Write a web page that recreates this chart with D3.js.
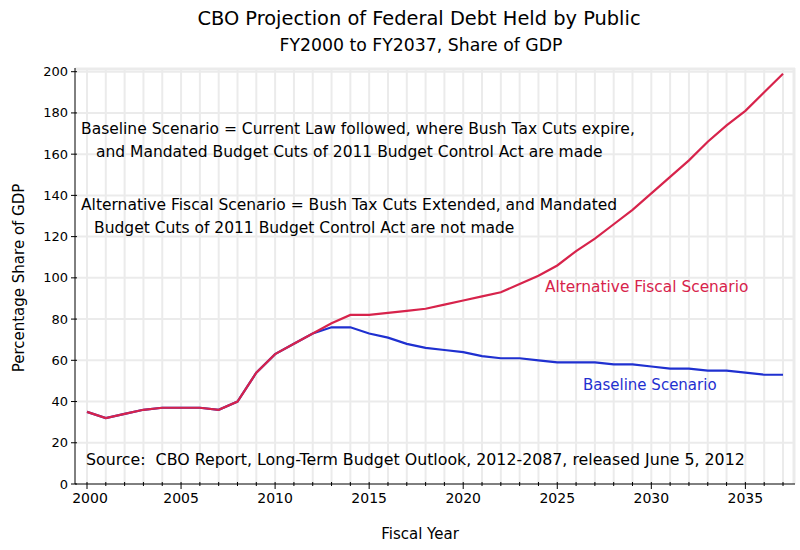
<!DOCTYPE html>
<html>
<head>
<meta charset="utf-8">
<script src="https://cdn.jsdelivr.net/npm/d3@7"></script>
<style>
  body { margin: 0; background: #fff; }
  text { font-family: "DejaVu Sans", sans-serif; }
</style>
</head>
<body>
<div id="chart"></div>
<script>
// data (share of GDP, %)
years = d3.range(2000, 2038);
baseline = [35, 32, 34, 36, 37, 37, 37, 36, 40, 54, 63, 68, 73, 76, 76, 73, 71, 68, 66, 65,
            64, 62, 61, 61, 60, 59, 59, 59, 58, 58, 57, 56, 56, 55, 55, 54, 53, 53];
alternative = [35, 32, 34, 36, 37, 37, 37, 36, 40, 54, 63, 68, 73, 78, 82, 82, 83, 84, 85, 87,
               89, 91, 93, 97, 101, 106, 113, 119, 126, 133, 141, 149, 157, 166, 174, 181, 190, 199];
yTicks = [0, 20, 40, 60, 80, 100, 120, 140, 160, 180, 200];
xTicks = [2000, 2005, 2010, 2015, 2020, 2025, 2030, 2035];

width = 800;
height = 550;

const redColor = "#d7234b";
const blueColor = "#1f30d0";

const svg = d3.select("#chart").append("svg")
    .attr("width", width)
    .attr("height", height);

const plotLeft = 75, plotRight = 795, plotTop = 68, plotBottom = 484;

const x = d3.scaleLinear().domain([2000, 2037]).range([87, 783]);
const y = d3.scaleLinear().domain([0, 200]).range([plotBottom, 71.7]);

// grid
const grid = svg.append("g").attr("stroke", "#ebebeb").attr("stroke-width", 2);
grid.selectAll(".vx").data(years).join("line")
    .attr("x1", d => x(d)).attr("x2", d => x(d))
    .attr("y1", plotTop).attr("y2", plotBottom);
grid.selectAll(".hy").data(yTicks.slice(1)).join("line")
    .attr("x1", plotLeft).attr("x2", plotRight)
    .attr("y1", d => y(d)).attr("y2", d => y(d));
// light frame on top and right
grid.append("line").attr("x1", plotLeft).attr("x2", plotRight).attr("y1", plotTop + 1).attr("y2", plotTop + 1)
    .attr("stroke-width", 3);
grid.append("line").attr("x1", plotRight - 1).attr("x2", plotRight - 1).attr("y1", plotTop).attr("y2", plotBottom)
    .attr("stroke-width", 3);

// annotations
const notes = [
  {t: "Baseline Scenario = Current Law followed, where Bush Tax Cuts expire,", x: 81, y: 134, s: 15.5},
  {t: "and Mandated Budget Cuts of 2011 Budget Control Act are made", x: 96, y: 157, s: 15.5},
  {t: "Alternative Fiscal Scenario = Bush Tax Cuts Extended, and Mandated", x: 81, y: 210, s: 15.5},
  {t: "Budget Cuts of 2011 Budget Control Act are not made", x: 94, y: 233, s: 15.5},
  {t: "Source:  CBO Report, Long-Term Budget Outlook, 2012-2087, released June 5, 2012", x: 86, y: 465, s: 15.8}
];
svg.append("g").selectAll("text").data(notes).join("text")
    .attr("x", d => d.x).attr("y", d => d.y)
    .attr("font-size", d => d.s)
    .attr("fill", "#000")
    .attr("xml:space", "preserve")
    .style("white-space", "pre")
    .text(d => d.t);

// lines
const line = arr => d3.line()
    .x((d, i) => x(years[i]))
    .y(d => y(d))(arr);

svg.append("path").attr("d", line(baseline))
    .attr("fill", "none").attr("stroke", blueColor).attr("stroke-width", 2.2);
svg.append("path").attr("d", line(alternative))
    .attr("fill", "none").attr("stroke", redColor).attr("stroke-width", 2.2);

svg.append("text").attr("x", 545).attr("y", 292)
    .attr("font-size", 15.4).attr("fill", redColor)
    .text("Alternative Fiscal Scenario");
svg.append("text").attr("x", 583).attr("y", 390)
    .attr("font-size", 15).attr("fill", blueColor)
    .text("Baseline Scenario");

// axes
const yAxis = svg.append("g").attr("transform", `translate(${plotLeft},0)`);
yAxis.append("line").attr("y1", plotTop).attr("y2", plotBottom).attr("stroke", "#000");
yAxis.selectAll(".t").data(yTicks).join("line")
    .attr("x1", -4).attr("x2", 2)
    .attr("y1", d => y(d)).attr("y2", d => y(d))
    .attr("stroke", "#000");
yAxis.selectAll("text").data(yTicks).join("text")
    .attr("x", -7).attr("y", d => y(d)).attr("dy", "0.35em")
    .attr("text-anchor", "end").attr("font-size", 13)
    .text(d => d);

const xAxis = svg.append("g").attr("transform", `translate(0,${plotBottom})`);
xAxis.append("line").attr("x1", plotLeft).attr("x2", plotRight).attr("stroke", "#000");
xAxis.selectAll(".m").data(years).join("line")
    .attr("x1", d => x(d)).attr("x2", d => x(d))
    .attr("y1", -2).attr("y2", d => xTicks.includes(d) ? 5 : 2)
    .attr("stroke", "#000");
xAxis.selectAll("text").data(xTicks).join("text")
    .attr("x", d => x(d) + (d === 2000 ? 3 : 0)).attr("y", 19)
    .attr("text-anchor", "middle").attr("font-size", 14)
    .text(d => d);

// titles
svg.append("text").attr("x", 419).attr("y", 25)
    .attr("text-anchor", "middle").attr("font-size", 19.4)
    .text("CBO Projection of Federal Debt Held by Public");
svg.append("text").attr("x", 421).attr("y", 51)
    .attr("text-anchor", "middle").attr("font-size", 17.3)
    .text("FY2000 to FY2037, Share of GDP");
svg.append("text").attr("x", 420).attr("y", 539)
    .attr("text-anchor", "middle").attr("font-size", 15)
    .text("Fiscal Year");
svg.append("text")
    .attr("transform", "translate(24,278) rotate(-90)")
    .attr("text-anchor", "middle").attr("font-size", 15)
    .text("Percentage Share of GDP");
</script>
</body>
</html>
